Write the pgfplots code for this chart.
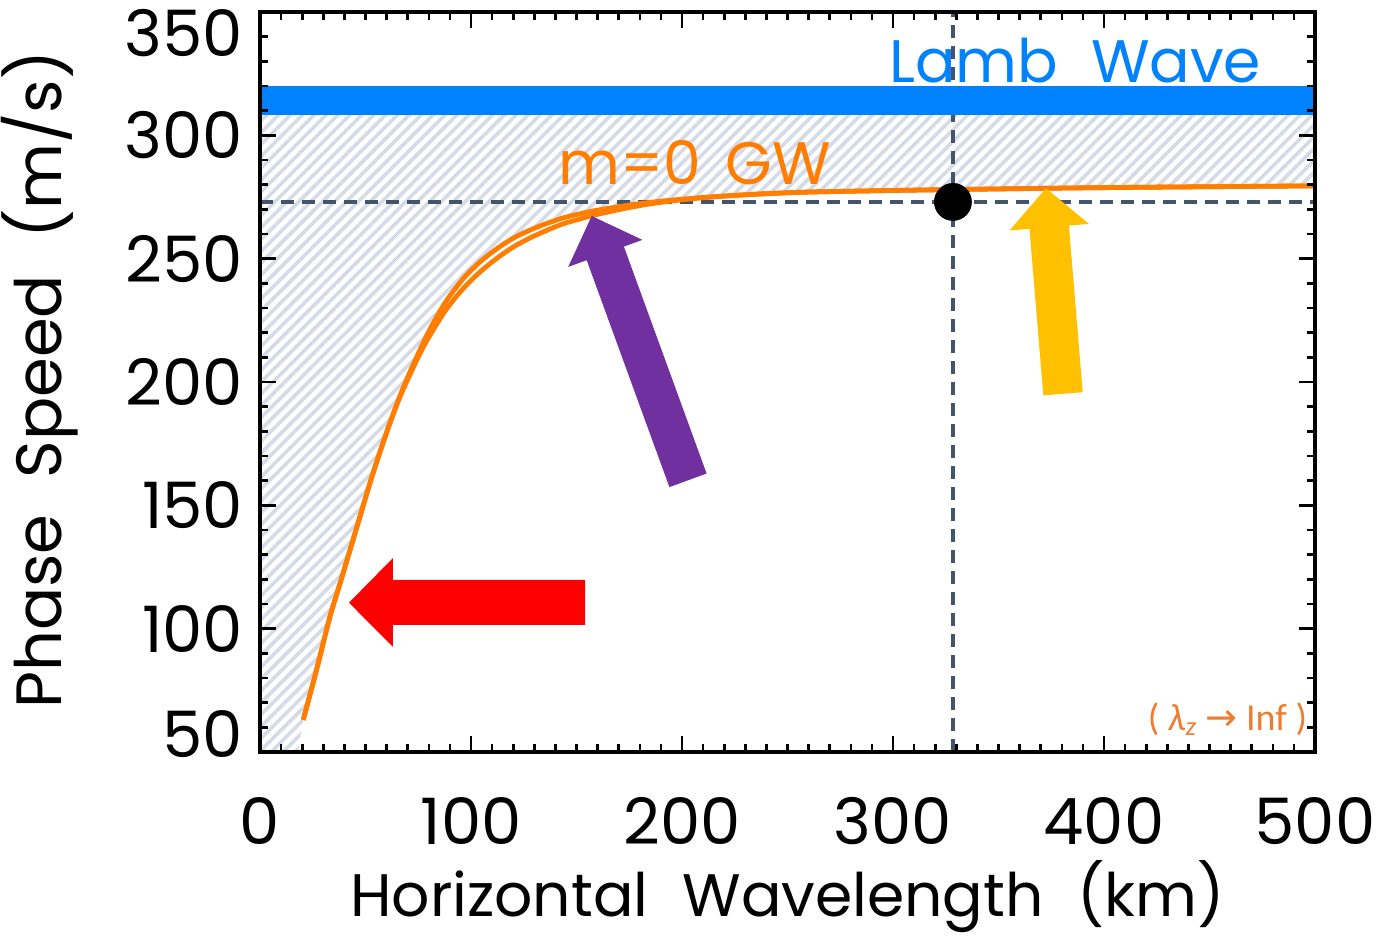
\documentclass[border=0pt]{standalone}
\usepackage{fontspec}
\setmainfont{Poppins}
\newfontfamily\calib{Carlito}
\newfontfamily\djv{DejaVu Sans}
\usepackage{pgfplots}
\pgfplotsset{compat=1.18}
\usetikzlibrary{patterns.meta}

\definecolor{lambblue}{RGB}{0,130,255}
\definecolor{gworange}{RGB}{255,125,0}
\definecolor{dashc}{RGB}{68,84,106}
\definecolor{hatchc}{RGB}{212,219,230}
\definecolor{arrred}{RGB}{255,0,0}
\definecolor{arrpurple}{RGB}{112,48,160}
\definecolor{arryellow}{RGB}{255,192,0}
\definecolor{infor}{RGB}{237,125,49}

\pgfplotstableread{
x y
20.5 63
27 84
33.2 105
38 118.5
42.7 132
47.4 145.5
52.1 159
56.8 171.5
61.6 183.4
65.5 192.5
69.5 201
75.8 213
80.6 221.5
88 232.5
96.2 241.8
104 248.5
112.2 254
120 258.3
128 261.6
136 264.3
143.6 266.5
151.6 268.2
159.6 269.6
175.4 271.8
190 273.3
208.5 274.7
230 275.9
256 276.9
290 277.5
328 278
400 278.8
500 279.5
}\curveA

\pgfplotstableread{
x y
20.5 63
27 84
33.2 105
38 118.5
42.7 132
47.4 145.5
52.1 159
56.8 171.5
61.6 183.4
65.5 192.2
69.5 200.1
75.8 211.5
80.6 219.0
88 229.1
96.2 237.8
104 244.4
112.2 250.1
120 254.7
128 258.4
136 261.5
143.6 264.1
151.6 266.1
159.6 267.9
175.4 270.8
190 272.85
208.5 274.6
230 275.9
256 276.9
290 277.5
328 278
400 278.8
500 279.5
}\curveB

\begin{document}
\begin{tikzpicture}
\begin{axis}[
 scale only axis, width=527.5pt, height=370pt,
 xmin=0, xmax=500, ymin=50, ymax=350,
 xtick={0,100,...,500}, ytick={50,100,...,350},
 yticklabels={\raisebox{-2.75pt}[0pt][0pt]{50},100,150,200,250,300,\raisebox{-22.5pt}[0pt][0pt]{350}},
 minor x tick num=9, minor y tick num=4,
 tick align=inside,
 major tick length=8pt, minor tick length=4pt,
 every tick/.style={black, line width=1.3pt},
 axis line style={line width=1.8pt},
 tick label style={font=\fontsize{32}{38}\selectfont},
 /pgf/number format/assume math mode=true,
 xticklabel style={yshift=-19pt},
 yticklabel style={xshift=-5pt},
 xlabel={Horizontal\hspace{0.3em} Wavelength\hspace{0.3em} (km)},
 ylabel={Phase\hspace{0.3em} Speed\hspace{0.3em} (m/s)},
 xlabel style={font=\fontsize{30}{36}\selectfont, at={(axis description cs:0.5,-0.222)}, anchor=base},
 ylabel style={font=\fontsize{32}{38}\selectfont, at={(axis description cs:-0.2085,0.503)}, anchor=center},
 axis on top,
]
% hatched region
\addplot[draw=none, pattern={Lines[angle=45,distance=4.2pt,line width=1.8pt]}, pattern color=hatchc] coordinates {
(0,50) (18,50) (20.5,63) (27,84) (33.2,105) (38,118.5) (42.7,132) (47.4,145.5) (52.1,159) (56.8,171.5) (61.6,183.4) (65.5,192.5) (69.5,201) (75.8,213) (80.6,221.5) (88,232.5) (96.2,241.8) (104,248.5) (112.2,254) (120,258.3) (128,261.6) (136,264.3) (143.6,266.5) (151.6,268.2) (159.6,269.6) (175.4,271.8) (190,273.3) (208.5,274.7) (230,275.9) (256,276.9) (290,277.5) (328,278) (400,278.8) (500,279.5) (500,309) (0,309)};
% dashed guide lines
\addplot[dashc, line width=2.4pt, dash pattern=on 6.5pt off 4pt] coordinates {(0,273) (500,273)};
\addplot[dashc, line width=2.4pt, dash pattern=on 6.5pt off 4pt] coordinates {(328.4,50) (328.4,350)};
% Lamb wave band
\addplot[lambblue, line width=14.5pt] coordinates {(0,314.1) (500,314.1)};
% GW curves
\addplot[gworange, line width=2.4pt, smooth] table[x=x,y=y] {\curveA};
\addplot[gworange, line width=2.4pt, smooth] table[x=x,y=y] {\curveB};
% dot
\addplot[only marks, mark=*, mark size=9.25pt, black] coordinates {(328.4,273)};
% arrows
\addplot[fill=arrred, draw=none] coordinates {(154.03,119.73) (63.03,119.73) (63.03,128.65) (42.18,110.53) (63.03,92.57) (63.03,101.49) (154.03,101.49)};
\addplot[fill=arrpurple, draw=none] coordinates {(157.20,267.30) (181.23,257.61) (172.46,254.89) (211.66,162.91) (194.03,157.39) (154.83,249.38) (146.07,246.66)};
\addplot[fill=arryellow, draw=none] coordinates {(372.51,278.53) (392.84,264.09) (383.36,263.41) (389.91,195.86) (371.23,194.57) (364.69,262.11) (355.21,261.42)};
% texts
\node[lambblue, anchor=base, font=\fontsize{30}{36}\selectfont] at (axis cs:386.3,321.6) {Lamb\hspace{0.55em}Wave};
\node[gworange, anchor=base, font=\fontsize{30}{36}\selectfont] at (axis cs:206,279.9) {m=0\hspace{0.4em}GW};
\node[infor, anchor=base, font=\calib\fontsize{19}{23}\selectfont] at (axis cs:458.5,58.9) {( \textit{λ}\textsubscript{\textit{z}} {\djv →} Inf )};
\end{axis}
\pgfresetboundingbox
\path[use as bounding box] ([xshift=-130pt,yshift=-94pt]current axis.south west) rectangle ([xshift=33.5pt,yshift=6pt]current axis.north east);
\end{tikzpicture}
\end{document}
